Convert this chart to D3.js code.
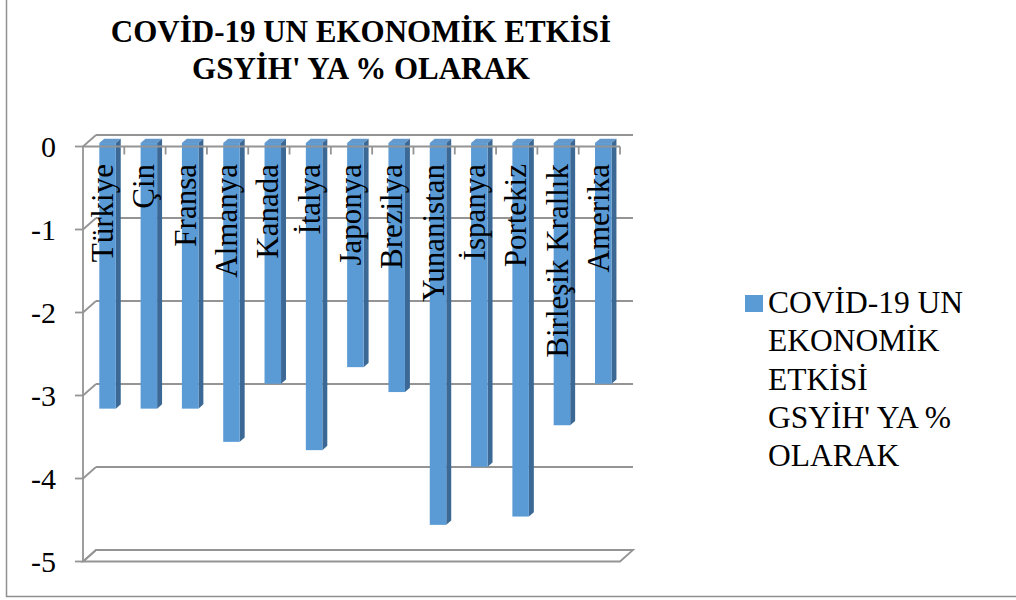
<!DOCTYPE html>
<html>
<head>
<meta charset="utf-8">
<script src="https://cdn.jsdelivr.net/npm/d3@7"></script>
<style>
  html, body { margin: 0; padding: 0; background: #ffffff; }
  svg { display: block; }
</style>
</head>
<body>
<svg id="chart" width="1016" height="600"></svg>
<script>
// Chart data
const titleLines = ["COVİD-19 UN EKONOMİK ETKİSİ", "GSYİH' YA % OLARAK"];
const seriesName = "COVİD-19 UN EKONOMİK ETKİSİ GSYİH' YA % OLARAK";
const legendLines = ["COVİD-19 UN", "EKONOMİK", "ETKİSİ", "GSYİH' YA %", "OLARAK"];
const categories = ["Türkiye", "Çin", "Fransa", "Almanya", "Kanada", "İtalya", "Japonya",
  "Brezilya", "Yunanistan", "İspanya", "Portekiz", "Birleşik Krallık", "Amerika"];
const values = [-3.2, -3.2, -3.2, -3.6, -2.9, -3.7, -2.7, -3.0, -4.6, -3.9, -4.5, -3.4, -2.9];
const yTicks = [0, -1, -2, -3, -4, -5];

const serif = "'Liberation Serif', 'Times New Roman', Times, serif";
const svg = d3.select("#chart").attr("font-family", serif);

// Plot frame (front plane) and oblique depth vector of the pseudo-3D box
const plotLeft = 83, plotRight = 620, plotTop = 146.5, plotBottom = 561.5;
const depth = { dx: 13, dy: -11.5 };
const barFront = 0.3, barDepth = 0.38;   // fraction of the box depth
const gridColor = "#949494";

const y = d3.scaleLinear().domain([0, -5]).range([plotTop, plotBottom]);
const xCat = d3.scaleBand().domain(categories).range([plotLeft, plotRight]).padding(0);
const xBar = d3.scaleBand().domain(categories).range([plotLeft, plotRight])
  .paddingInner(0.6).paddingOuter(0.3);

// Outer chart border (left and bottom edges visible)
svg.append("path")
  .attr("d", "M6.5,0 V596.5 H1016")
  .attr("fill", "none").attr("stroke", "#8f8f8f").attr("stroke-width", 1.5);

// Title
svg.append("g").selectAll("text").data(titleLines).join("text")
  .attr("font-family", serif)
  .attr("x", 361).attr("y", (d, i) => 42 + i * 36.6)
  .attr("text-anchor", "middle")
  .attr("font-size", 31).attr("font-weight", "bold")
  .text(d => d);

// Back wall gridlines and side-wall diagonals
const wall = svg.append("g").attr("fill", "none").attr("stroke", gridColor).attr("stroke-width", 1.8);
wall.selectAll("line.grid").data(yTicks.filter(v => v !== -5)).join("line")
  .attr("class", "grid")
  .attr("x1", plotLeft + depth.dx).attr("x2", plotRight + depth.dx)
  .attr("y1", d => y(d) + depth.dy).attr("y2", d => y(d) + depth.dy);
wall.selectAll("line.diag").data(yTicks).join("line")
  .attr("class", "diag")
  .attr("x1", plotLeft).attr("y1", d => y(d))
  .attr("x2", plotLeft + depth.dx).attr("y2", d => y(d) + depth.dy);

// Floor at the minimum of the value axis
const yf = y(-5);
wall.append("path")
  .attr("d", `M${plotLeft},${yf} H${plotRight} L${plotRight + depth.dx},${yf + depth.dy} H${plotLeft + depth.dx} Z`);

// Vertical value axis with ticks
wall.append("line").attr("x1", plotLeft).attr("x2", plotLeft).attr("y1", y(0)).attr("y2", y(-5));
wall.selectAll("line.ytick").data(yTicks).join("line")
  .attr("class", "ytick")
  .attr("x1", plotLeft - 8).attr("x2", plotLeft)
  .attr("y1", d => y(d)).attr("y2", d => y(d));

svg.append("g").selectAll("text").data(yTicks).join("text")
  .attr("font-family", serif)
  .attr("x", 56).attr("y", d => y(d)).attr("dy", "0.35em")
  .attr("text-anchor", "end").attr("font-size", 30)
  .text(d => d === 0 ? "0" : "-" + Math.abs(d));

// Bars as oblique prisms: top, side and front faces
const fx = barFront * depth.dx, fy = barFront * depth.dy;
const sx = barDepth * depth.dx, sy = barDepth * depth.dy;
const bw = xBar.bandwidth();
const bars = svg.append("g").selectAll("g").data(categories.map((c, i) => ({ c, v: values[i] }))).join("g");
bars.append("path") // top face
  .attr("fill", "#6399cc")
  .attr("d", d => {
    const x0 = xBar(d.c) + fx, y0 = y(0) + fy;
    return `M${x0},${y0} H${x0 + bw} L${x0 + bw + sx},${y0 + sy} H${x0 + sx} Z`;
  });
bars.append("path") // side face
  .attr("fill", "#3b6894")
  .attr("d", d => {
    const x1 = xBar(d.c) + fx + bw, y0 = y(0) + fy, y1 = y(d.v) + fy;
    return `M${x1},${y0} L${x1 + sx},${y0 + sy} V${y1 + sy} L${x1},${y1} Z`;
  });
bars.append("rect") // front face
  .attr("fill", "#5b9bd5")
  .attr("x", d => xBar(d.c) + fx)
  .attr("y", y(0) + fy)
  .attr("width", bw)
  .attr("height", d => y(d.v) - y(0));

// Category axis along the zero line, with tick marks between categories
const catAxis = svg.append("g").attr("stroke", gridColor).attr("stroke-width", 1.8);
catAxis.append("line").attr("x1", plotLeft).attr("x2", plotRight).attr("y1", y(0)).attr("y2", y(0));
catAxis.selectAll("line.ctick").data(categories).join("line")
  .attr("class", "ctick")
  .attr("x1", d => xCat(d) + xCat.bandwidth()).attr("x2", d => xCat(d) + xCat.bandwidth())
  .attr("y1", y(0)).attr("y2", y(0) + 8);

// Rotated category labels
svg.append("g").selectAll("text").data(categories).join("text")
  .attr("font-family", serif)
  .attr("transform", d => `translate(${xCat(d) + xCat.bandwidth() / 2 + 9.5},164) rotate(-90)`)
  .attr("text-anchor", "end").attr("font-size", 31)
  .text(d => d);

// Legend
const legend = svg.append("g").attr("aria-label", seriesName);
legend.append("rect").attr("x", 745).attr("y", 295).attr("width", 18).attr("height", 17)
  .attr("fill", "#5b9bd5");
legend.selectAll("text").data(legendLines).join("text")
  .attr("font-family", serif)
  .attr("x", 768).attr("y", (d, i) => 313 + i * 38.3)
  .attr("font-size", 31.5)
  .text(d => d);
</script>
</body>
</html>
